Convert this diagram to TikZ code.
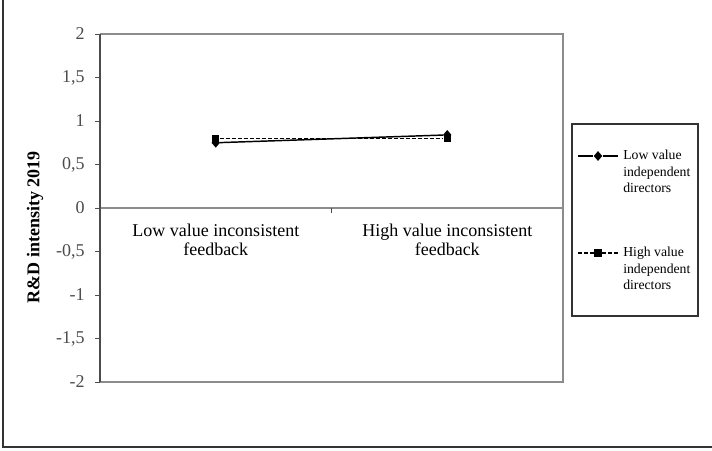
\documentclass[tikz,border=0pt]{standalone}
\usepackage{fontspec}
\setmainfont{Liberation Serif}
\usetikzlibrary{shapes.geometric}

\tikzset{
	lowmark/.style={diamond, fill=black, inner sep=0pt, minimum width=6.5pt, minimum height=7.5pt},
	highmark/.style={rectangle, fill=black, inner sep=0pt, minimum size=5.5pt},
	ticklab/.style={anchor=east, inner sep=0pt, font=\fontsize{13.5}{15}\selectfont},
	catlab/.style={anchor=north, align=center, inner sep=0pt, font=\fontsize{13.5}{14.3}\selectfont},
	legtext/.style={anchor=north west, align=left, inner sep=0pt, font=\fontsize{10.3}{12.2}\selectfont},
	plotframe/.style={black!45, line width=1.1pt},
	dashline/.style={line width=0.9pt, dash pattern=on 3pt off 1.5pt},
}

\begin{document}
\begin{tikzpicture}[x=0.75pt, y=-0.75pt]
		\useasboundingbox (0,0) rectangle (712,450);
		\fill[white] (0,0) rectangle (712,450);
		\draw[black!80, line width=0.9pt] (3,0) -- (3,447) -- (712,447);
		
		% plot area
		\draw[plotframe] (100,34) -- (563,34) -- (563,382) -- (100,382);
		\draw[plotframe] (100,208) -- (563,208);
		\draw[black!70, line width=0.8pt] (100,34) -- (100,382);
		\draw[black!70, line width=0.6pt] (331.5,208) -- (331.5,213);
		
		\foreach \v/\lab [count=\i] in {2/2, 1.5/{1,5}, 1/1, 0.5/{0,5}, 0/0, -0.5/{-0,5}, -1/-1, -1.5/{-1,5}, -2/-2}
			\draw[black!70, line width=0.6pt] (95,{208-87*\v}) -- (100,{208-87*\v})
				node[ticklab] (yt\i) at (85,{208-87*\v}) {\lab};
		
		\node[rotate=90, font=\bfseries\fontsize{13.5}{15}\selectfont] (ylab) at (35,227) {R\&D intensity 2019};
		
		\node[catlab] (catlow) at (215.75,224) {Low value inconsistent\\feedback};
		\node[catlab] (cathigh) at (447.25,224) {High value inconsistent\\feedback};
		
		% data
		\node[lowmark] (low1) at (215.75,{208-87*0.75}) {};
		\node[lowmark] (low2) at (447.25,{208-87*0.84}) {};
		\node[highmark] (high1) at (215.75,{208-87*0.80}) {};
		\node[highmark] (high2) at (447.25,{208-87*0.80}) {};
		\draw[line width=1.1pt] (low1) -- (low2);
		\draw[dashline] (high1) -- (high2);
		
		% legend
		\draw[black!80, line width=0.8pt] (572,124) rectangle (698,316);
		\coordinate (la) at (578,156);
		\coordinate (lb) at (618,156);
		\node[lowmark] (lowkey) at (598,156) {};
		\draw[line width=1.1pt] (la) -- (lowkey) -- (lb);
		\node[legtext] (lowtxt) at (623,150) {Low value\\independent\\directors};
		
		\coordinate (ha) at (578,253);
		\coordinate (hb) at (618,253);
		\node[highmark] (highkey) at (598,253) {};
		\draw[dashline] (ha) -- (highkey) -- (hb);
		\node[legtext] (hightxt) at (623,247) {High value\\independent\\directors};

\end{tikzpicture}
\end{document}
